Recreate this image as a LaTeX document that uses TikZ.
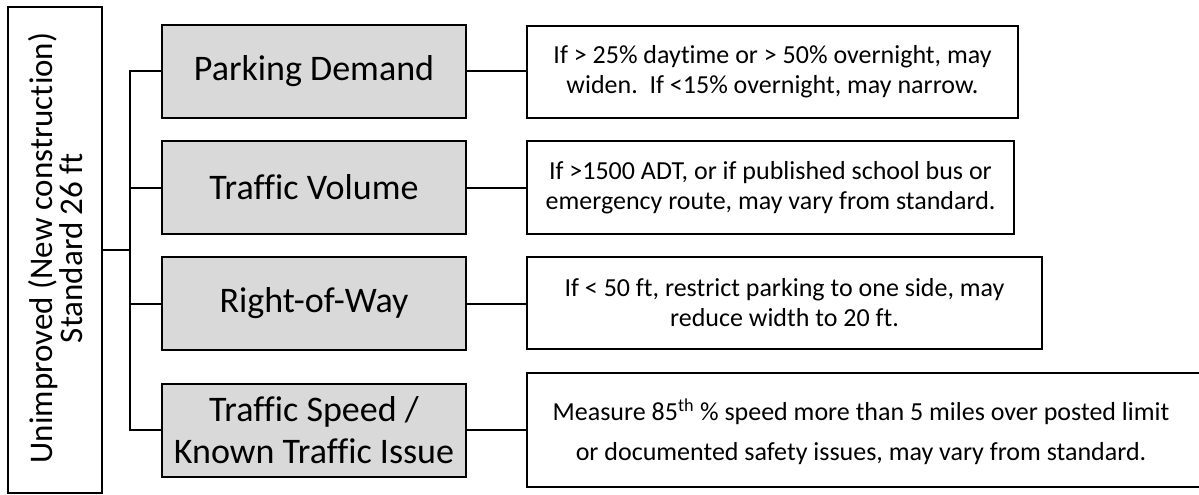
\documentclass[tikz,border=0pt]{standalone}
\usepackage{fontspec}
\setmainfont{Carlito}[Ligatures=CommonOff]
\begin{document}
\begin{tikzpicture}[x=1pt,y=-1pt,
  every node/.style={inner sep=0pt, outer sep=0pt},
  rootbox/.style={draw=black, line width=2pt, fill=white, minimum width=94pt, minimum height=486pt},
  graybox/.style={draw=black, line width=2pt, fill=boxgray, minimum width=304pt, minimum height=93pt, align=center, font=\fontsize{36}{42}\selectfont},
  notebox/.style={draw=black, line width=2pt, fill=white, align=center, font=\fontsize{26}{30}\selectfont},
  conn/.style={draw=black, line width=2pt}
]
\definecolor{boxgray}{HTML}{D9D9D9}
\fill[white] (0,0) rectangle (1199,495);
\useasboundingbox (0,0) rectangle (1199,495);

% root
\node[rootbox] (L) at (55,250) {};
\node[rotate=90, align=center, font=\fontsize{33}{30}\selectfont] (Lt) at (56,248) {Unimproved (New construction)\\Standard 26 ft};

% gray boxes
\node[graybox] (g1) at (314,71.5) {Parking Demand};
\node[graybox] (g2) at (314,187.5) {Traffic Volume};
\node[graybox] (g3) at (314,303.5) {Right-of-Way};
\node[graybox] (g4) at (314,430) {Traffic Speed /\\Known Traffic Issue};

% note boxes
\node[notebox, minimum width=491pt, minimum height=92pt] (w1) at (772.5,72) {If > 25\% daytime or > 50\% overnight, may\\widen.\ \ If <15\% overnight, may narrow.};
\node[notebox, minimum width=487pt, minimum height=93pt] (w2) at (770.5,187.5) {If >1500 ADT, or if published school bus or\\emergency route, may vary from standard.};
\node[notebox, minimum width=515pt, minimum height=92pt] (w3) at (784.5,303) {If < 50 ft, restrict parking to one side, may\\reduce width to 20 ft.};
\node[notebox, minimum width=678pt, minimum height=114pt] (w4) at (866,430) {};
\node[align=center, font=\fontsize{26}{40}\selectfont] (w4t) at (861,432) {Measure 85\textsuperscript{th} \% speed more than 5 miles over posted limit\\or documented safety issues, may vary from standard.};

% connectors
\coordinate (j) at (130,250);
\draw[conn] (L.east) -- (j);
\draw[conn] (g1.west) -- (g1.west -| j) -- (g4.west -| j) -- (g4.west);
\draw[conn] (g2.west) -- (g2.west -| j);
\draw[conn] (g3.west) -- (g3.west -| j);
\draw[conn] (g1.east) -- (g1.east -| w1.west);
\draw[conn] (g2.east) -- (g2.east -| w2.west);
\draw[conn] (g3.east) -- (g3.east -| w3.west);
\draw[conn] (g4.east) -- (g4.east -| w4.west);
\end{tikzpicture}
\end{document}
